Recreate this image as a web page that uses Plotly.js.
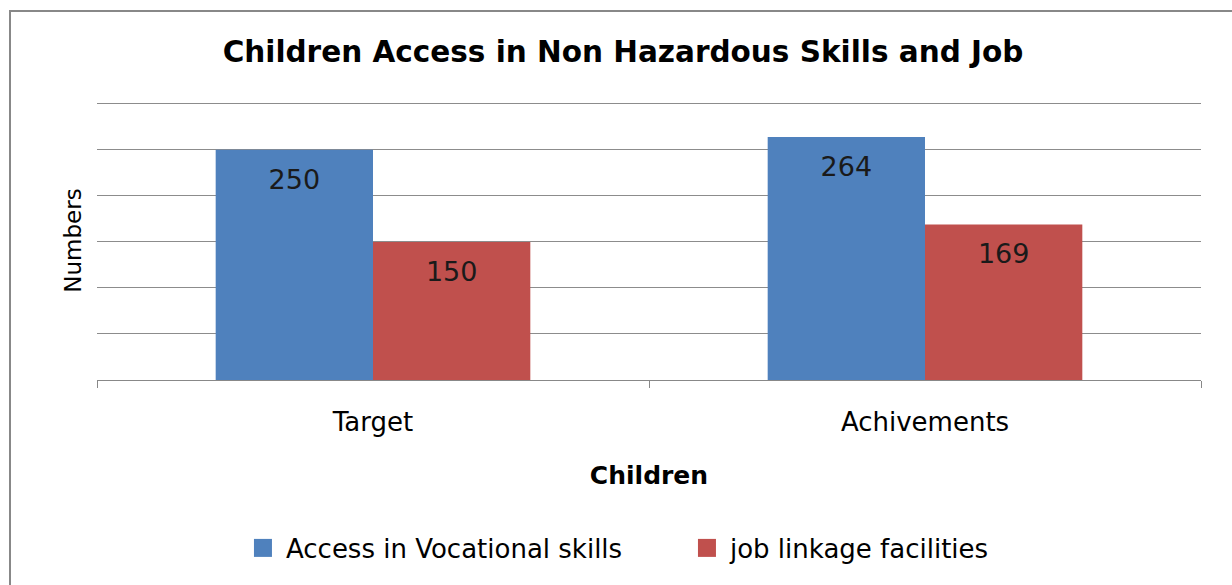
<!DOCTYPE html>
<html>
<head>
<meta charset="utf-8">
<script src="https://cdn.plot.ly/plotly-3.0.1.min.js"></script>
<style>
  html, body { margin: 0; padding: 0; background: #fff; }
  #wrap { position: relative; width: 1232px; height: 585px; overflow: hidden; }
  #frame { position: absolute; left: 9px; top: 10px; width: 1400px; height: 800px; border: 2px solid #888; box-sizing: border-box; pointer-events: none; z-index: 5; }
  #chart { position: absolute; left: 0; top: 0; width: 1232px; height: 585px; }
  #chart .legend .scrollbox { clip-path: none !important; }
  #chart .legend .legendpoints path { transform-box: fill-box; transform-origin: center; transform: translate(17px, 0) scale(1.5); }
</style>
</head>
<body>
<div id="wrap">
  <div id="chart"></div>
  <div id="frame"></div>
</div>
<script>
const categories = ["Target", "Achivements"];
const seriesNames = ["Access in Vocational skills", "job linkage facilities"];
const vocationalValues = [250, 264];
const jobLinkageValues = [150, 169];
const colors = ["#4F81BD", "#C0504D"];

const FONT = "DejaVu Sans, sans-serif";

function barTrace(name, values, color) {
  return {
    type: "bar",
    name: name,
    x: categories,
    y: values,
    text: values.map(v => "<span style='font-size:1px'>\u00a0</span><br>" + v),
    textposition: "inside",
    insidetextanchor: "end",
    textfont: { family: FONT, size: 27, color: "#1a1a1a" },
    marker: { color: color, line: { width: 0 } },
    hoverinfo: "x+y+name"
  };
}

const data = [
  barTrace(seriesNames[0], vocationalValues, colors[0]),
  barTrace(seriesNames[1], jobLinkageValues, colors[1])
];

const layout = {
  width: 1232,
  height: 585,
  margin: { l: 97, r: 31, t: 101, b: 205, pad: 0 },
  paper_bgcolor: "#ffffff",
  plot_bgcolor: "#ffffff",
  font: { family: FONT, color: "#000" },
  title: {
    text: "<b>Children Access in Non Hazardous Skills and Job</b>",
    font: { family: FONT, size: 29.5, color: "#000" },
    x: 623 / 1232, xanchor: "center", xref: "container",
    y: 1 - 52 / 585, yanchor: "middle", yref: "container"
  },
  barmode: "group",
  bargap: 0.43,
  bargroupgap: 0,
  xaxis: {
    type: "category",
    showline: true, linecolor: "#888", linewidth: 1,
    ticks: "outside", tickson: "boundaries", ticklen: 7, tickcolor: "#888", tickwidth: 1,
    tickfont: { family: FONT, size: 26, color: "#000" },
    ticklabelstandoff: 19,
    showgrid: false, zeroline: false,
    title: { text: "<b>Children</b>", font: { family: FONT, size: 25, color: "#000" }, standoff: 30 },
    automargin: false
  },
  yaxis: {
    range: [0, 303], dtick: 50, tick0: 0,
    showgrid: true, gridcolor: "#8c8c8c", gridwidth: 1,
    showline: false, zeroline: false, ticks: "", showticklabels: false,
    title: { text: "Numbers", font: { family: FONT, size: 23, color: "#000" }, standoff: 7 },
    automargin: false
  },
  showlegend: true,
  legend: {
    orientation: "h",
    x: 0.5371, xanchor: "center",
    y: (380 - 548) / 279, yanchor: "middle",
    entrywidth: 399,
    font: { family: FONT, size: 26, color: "#000" },
    bgcolor: "rgba(0,0,0,0)"
  }
};

Plotly.newPlot("chart", data, layout, { displayModeBar: false, staticPlot: true });
</script>
</body>
</html>
